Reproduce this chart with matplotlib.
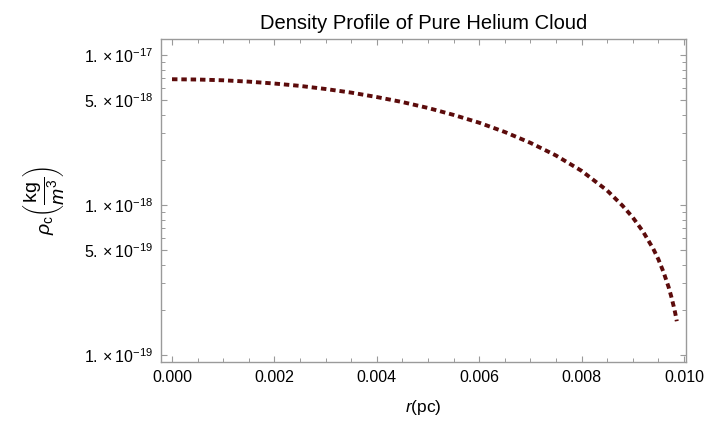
import matplotlib
matplotlib.use("Agg")
import matplotlib.pyplot as plt
from matplotlib.ticker import FixedLocator, NullFormatter, MultipleLocator, FormatStrFormatter

plt.rcParams['font.family'] = ['Liberation Sans', 'DejaVu Sans']
plt.rcParams['mathtext.fontset'] = 'custom'
plt.rcParams['mathtext.rm'] = 'Liberation Sans'
plt.rcParams['mathtext.it'] = 'Liberation Sans:italic'
plt.rcParams['mathtext.bf'] = 'Liberation Sans:bold'

# radius (pc) and central density (kg/m^3)
r_pc = [0.0, 0.0005, 0.001, 0.0015, 0.002, 0.0025, 0.003, 0.0035, 0.004,
        0.0045, 0.005, 0.0055, 0.006, 0.0065, 0.007, 0.0075, 0.008, 0.0085,
        0.0088, 0.009, 0.0092, 0.0094, 0.0095, 0.0096, 0.0097, 0.00975,
        0.0098, 0.00983, 0.00986]
rho = [6.90e-18, 6.87e-18, 6.79e-18, 6.65e-18, 6.46e-18, 6.23e-18, 5.94e-18,
       5.62e-18, 5.25e-18, 4.86e-18, 4.44e-18, 3.99e-18, 3.54e-18, 3.07e-18,
       2.60e-18, 2.14e-18, 1.69e-18, 1.25e-18, 9.9e-19, 8.27e-19, 6.66e-19,
       5.11e-19, 4.35e-19, 3.58e-19, 2.84e-19, 2.47e-19, 2.11e-19, 1.90e-19,
       1.68e-19]

y_major = [1e-19, 5e-19, 1e-18, 5e-18, 1e-17]
y_labels = [r'$1.\times10^{-19}$', r'$5.\times10^{-19}$', r'$1.\times10^{-18}$',
            r'$5.\times10^{-18}$', r'$1.\times10^{-17}$']
y_minor = [m * 10.0**e for e in (-20, -19, -18, -17) for m in (2, 3, 4, 6, 7, 8, 9)]

W, H = 709, 422
fig = plt.figure(figsize=(W / 100, H / 100), dpi=100)
ax = fig.add_axes([161 / W, 1 - 362 / H, (686 - 161) / W, (362 - 39) / H])

ax.plot(r_pc, rho, color='#5c0b0b', lw=2.8, dashes=(1.4, 1.0), solid_capstyle='butt',
        dash_capstyle='butt')

ax.set_yscale('log')
ax.set_xlim(-0.000215, 0.01004)
ax.set_ylim(8.98e-20, 1.28e-17)

ax.xaxis.set_major_locator(MultipleLocator(0.002))
ax.xaxis.set_minor_locator(MultipleLocator(0.0005))
ax.xaxis.set_major_formatter(FormatStrFormatter('%.3f'))
ax.yaxis.set_major_locator(FixedLocator(y_major))
ax.yaxis.set_minor_locator(FixedLocator(y_minor))
ax.set_yticklabels(y_labels)
ax.yaxis.set_minor_formatter(NullFormatter())

for s in ax.spines.values():
    s.set_color('#9a9a9a')
    s.set_linewidth(1.0)
ax.tick_params(which='both', direction='in', top=True, right=True, color='#9a9a9a',
               labelsize=11.5, labelcolor='black')
ax.tick_params(which='major', length=4.5, width=0.8, pad=6)
ax.tick_params(which='minor', length=2.6, width=0.7)

ax.set_title('Density Profile of Pure Helium Cloud', fontsize=14.5, pad=7)
ax.set_xlabel(r'$r\mathrm{(pc)}$', fontsize=12.5, labelpad=9)
ax.set_ylabel(r'$\rho_{\mathrm{c}}\left(\dfrac{\mathrm{kg}}{m^{3}}\right)$', fontsize=14)
ax.yaxis.set_label_coords(-0.18, 0.5)

fig.savefig('out.png', dpi=100)
